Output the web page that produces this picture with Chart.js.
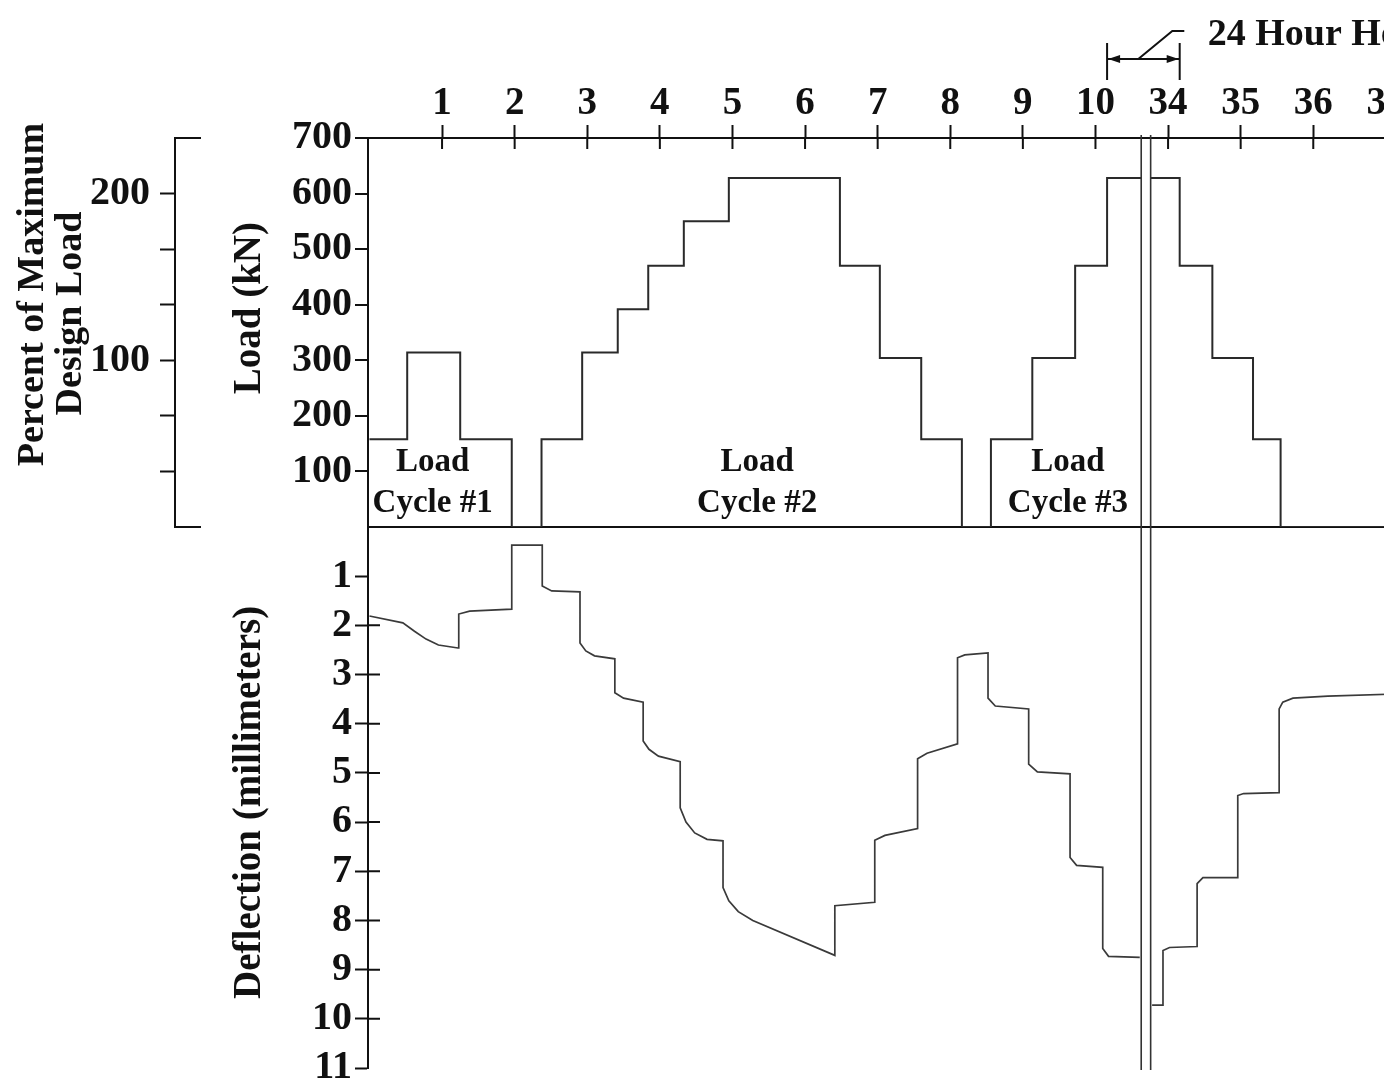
<!DOCTYPE html>
<html>
<head>
<meta charset="utf-8">
<script src="https://cdn.jsdelivr.net/npm/chart.js@4.4.1/dist/chart.umd.min.js"></script>
<style>
  html, body { margin: 0; padding: 0; background: #fff; overflow: hidden; }
  canvas { display: block; }
</style>
</head>
<body>
<canvas id="grafico" width="1420" height="1086"></canvas>
<script>
// hours on the top axis (the 24 hour hold is cut out of the axis)
var horaTicks = [1, 2, 3, 4, 5, 6, 7, 8, 9, 10, 34, 35, 36, 37];
var pausa = 23;              // hours removed from the axis
var corte = [10.63, 33.76];  // axis break, real hours
var manter = [10.16, 34.16]; // 24 hour hold

var cargaTicks = [0, 100, 200, 300, 400, 500, 600, 700];
var deflTicks = [0, 1, 2, 3, 4, 5, 6, 7, 8, 9, 10, 11];
var pctTicks = [0, 100 / 3, 200 / 3, 100, 400 / 3, 500 / 3, 200, 700 / 3];
var pctRotulos = ['', '', '', '100', '', '', '200', ''];

// load steps: time the level starts (h), load (kN)
var cargaHoras = [0, 0.52, 1.25, 1.96, 2.37, 2.93, 3.42, 3.84, 4.33, 4.95, 6.48, 7.03, 7.60, 8.16,
  8.56, 9.13, 9.72, 10.16, 10.63, 10.63, 33.76, 34.16, 34.61, 35.17, 35.55, 37.47];
var cargaKN = [158, 314, 158, 0, 158, 314, 392, 470, 550, 628, 470, 304, 158, 0,
  158, 304, 470, 628, 628, null, 628, 470, 304, 158, 0, 0];

// deflection: time (h), deflection (mm)
var deflHoras = [0, 0.46, 0.62, 0.78, 0.95, 1.22, 1.23, 1.38, 1.96, 1.96, 2.38, 2.38, 2.51, 2.90,
  2.90, 2.98, 3.10, 3.38, 3.38, 3.50, 3.77, 3.77, 3.85, 3.98, 4.28, 4.28, 4.36, 4.48, 4.65, 4.87,
  4.87, 4.95, 5.08, 5.28, 6.41, 6.41, 6.96, 6.96, 7.10, 7.55, 7.55, 7.68, 8.10, 8.10, 8.20, 8.52,
  8.52, 8.62, 9.08, 9.08, 9.20, 9.65, 9.65, 9.74, 10.10, 10.10, 10.18, 10.61, 10.63,
  33.78, 33.93, 33.93, 34.02, 34.40, 34.40, 34.48, 34.96, 34.96, 35.04, 35.53, 35.53, 35.58,
  35.72, 36.20, 37.47];
var deflMM = [1.81, 1.95, 2.12, 2.28, 2.40, 2.46, 1.77, 1.71, 1.67, 0.37, 0.37, 1.20, 1.30, 1.32,
  2.36, 2.52, 2.62, 2.68, 3.37, 3.48, 3.56, 4.35, 4.52, 4.66, 4.77, 5.71, 6.00, 6.22, 6.35, 6.38,
  7.33, 7.60, 7.82, 8.00, 8.71, 7.70, 7.63, 6.37, 6.27, 6.13, 4.71, 4.60, 4.41, 2.66, 2.60, 2.56,
  3.48, 3.64, 3.70, 4.82, 4.98, 5.02, 6.72, 6.88, 6.92, 8.57, 8.73, 8.75, null,
  9.72, 9.72, 8.61, 8.55, 8.53, 7.25, 7.13, 7.13, 5.46, 5.42, 5.40, 3.70, 3.56,
  3.48, 3.44, 3.38];

var ciclos = [['Load', 'Cycle #1'], ['Load', 'Cycle #2'], ['Load', 'Cycle #3']];

var tinta = '#111';
var fonte = "'Liberation Serif', 'Times New Roman', serif";

var eixoX = function (t) {
	return t >= corte[1] ? t - pausa : t;
};
var pontos = function (horas, valores) {
	return horas.map(function (t, i) { return { x: eixoX(t), y: valores[i] }; });
};
var marcas = function (lista) {
	return function (s) { s.ticks = lista.map(function (v) { return { value: v }; }); };
};

var extras = {
	id: 'extras',
	afterDraw: function (chart) {
		var ctx = chart.ctx, a = chart.chartArea, sx = chart.scales.x;
		var sc = chart.scales.yCarga, sd = chart.scales.yDefl, sp = chart.scales.yPct;
		ctx.save();
		ctx.strokeStyle = tinta;
		ctx.fillStyle = tinta;
		ctx.lineWidth = 2;
		ctx.beginPath();
		// ticks cross the axes
		sx.ticks.forEach(function (t) {
			var px = sx.getPixelForValue(t.value);
			ctx.moveTo(px, a.top); ctx.lineTo(px, a.top + 11);
		});
		sd.ticks.forEach(function (t) {
			if (t.value > 1 && t.value < 11) {
				var py = sd.getPixelForValue(t.value);
				ctx.moveTo(a.left, py); ctx.lineTo(a.left + 12, py);
			}
		});
		// bracket ends of the percent axis
		[sp.min, sp.max].forEach(function (v) {
			var py = sp.getPixelForValue(v);
			ctx.moveTo(sp.right - 1, py); ctx.lineTo(sp.right + 26, py);
		});
		ctx.stroke();

		// axis break
		ctx.lineWidth = 1.6;
		ctx.strokeStyle = '#333';
		corte.forEach(function (t) {
			var px = sx.getPixelForValue(eixoX(t));
			ctx.beginPath(); ctx.moveTo(px, a.top - 3); ctx.lineTo(px, a.bottom + 2); ctx.stroke();
		});

		// cycle labels
		ctx.font = 'bold 33px ' + fonte;
		ctx.textAlign = 'center';
		ctx.textBaseline = 'middle';
		[0.87, 5.34, 9.62].forEach(function (h, i) {
			var px = sx.getPixelForValue(h);
			ctx.fillText(ciclos[i][0], px, sc.getPixelForValue(117));
			ctx.fillText(ciclos[i][1], px, sc.getPixelForValue(43));
		});

		// 24 hour hold
		var x1 = sx.getPixelForValue(eixoX(manter[0]));
		var x2 = sx.getPixelForValue(eixoX(manter[1]));
		var ym = 59;
		ctx.strokeStyle = tinta;
		ctx.lineWidth = 2;
		ctx.beginPath();
		ctx.moveTo(x1, 43); ctx.lineTo(x1, 80);
		ctx.moveTo(x2, 43); ctx.lineTo(x2, 80);
		ctx.moveTo(x1, ym); ctx.lineTo(x2, ym);
		var xl = x1 + (x2 - x1) * 0.43;
		ctx.moveTo(xl, ym); ctx.lineTo(xl + 34, 31); ctx.lineTo(xl + 46, 31);
		ctx.stroke();
		ctx.beginPath();
		ctx.moveTo(x1 + 1, ym); ctx.lineTo(x1 + 13, ym - 4); ctx.lineTo(x1 + 13, ym + 4); ctx.closePath();
		ctx.moveTo(x2 - 1, ym); ctx.lineTo(x2 - 13, ym - 4); ctx.lineTo(x2 - 13, ym + 4); ctx.closePath();
		ctx.fill();
		ctx.font = 'bold 38px ' + fonte;
		ctx.textAlign = 'left';
		ctx.textBaseline = 'alphabetic';
		ctx.fillText('24 Hour Hold', x2 + 28, 45);
		ctx.restore();
	}
};

var semPad = function (s) {
	s.paddingTop = 0; s.paddingBottom = 0; s.paddingLeft = 0; s.paddingRight = 0;
};

var ctx = document.getElementById('grafico').getContext('2d');
var grafico = new Chart(ctx, {
	type: 'line',
	data: {
		datasets: [{
			label: 'Load',
			data: pontos(cargaHoras, cargaKN),
			yAxisID: 'yCarga',
			stepped: true,
			borderColor: '#2a2a2a',
			borderWidth: 2,
			pointRadius: 0,
			fill: false
		}, {
			label: 'Deflection',
			data: pontos(deflHoras, deflMM),
			yAxisID: 'yDefl',
			borderColor: '#3a3a3a',
			borderWidth: 1.7,
			pointRadius: 0,
			tension: 0,
			fill: false
		}]
	},
	options: {
		responsive: false,
		animation: false,
		devicePixelRatio: 1,
		layout: { padding: { top: 0, left: 0, right: 0, bottom: 18 } },
		plugins: { legend: { display: false }, tooltip: { enabled: false } },
		scales: {
			x: {
				type: 'linear', position: 'top', min: -0.02, max: 14.47,
				afterBuildTicks: function (s) {
					s.ticks = horaTicks.map(function (h) { return { value: eixoX(h) }; });
				},
				afterFit: function (s) { s.height = 138; semPad(s); },
				ticks: {
					callback: function (v, i) { return horaTicks[i]; },
					autoSkip: false, maxRotation: 0, padding: 2, color: tinta,
					font: { family: fonte, size: 39, weight: 'bold', lineHeight: 1 }
				},
				grid: { drawOnChartArea: false, tickLength: 13, tickColor: tinta, tickWidth: 2 },
				border: { color: tinta, width: 2 }
			},
			yPct: {
				type: 'linear', position: 'left', stack: 'pct', stackWeight: 389, weight: 3,
				min: 0, max: 700 / 3,
				afterBuildTicks: marcas(pctTicks),
				afterFit: function (s) { s.width = 175; semPad(s); },
				ticks: {
					callback: function (v, i) { return pctRotulos[i]; },
					autoSkip: false, padding: 10, color: tinta,
					font: { family: fonte, size: 40, weight: 'bold', lineHeight: 1 }
				},
				grid: {
					drawOnChartArea: false, tickLength: 15, tickWidth: 2,
					tickColor: function (c) { return (c.index === 0 || c.index === pctTicks.length - 1) ? 'transparent' : tinta; }
				},
				border: { color: tinta, width: 2 },
				title: {
					display: true,
					text: ['        Percent of Maximum', '    Design Load'],
					color: tinta, padding: { top: 14, bottom: 0 },
					font: { family: fonte, size: 38, weight: 'bold', lineHeight: 1 }
				}
			},
			yPctFundo: {
				type: 'linear', position: 'left', stack: 'pct', stackWeight: 541, weight: 2,
				afterFit: function (s) { s.width = 175; semPad(s); },
				ticks: { display: false },
				grid: { display: false, drawTicks: false },
				border: { display: false }
			},
			yCarga: {
				type: 'linear', position: 'left', stack: 'esq', stackWeight: 389, weight: 1,
				min: 0, max: 700,
				afterBuildTicks: marcas(cargaTicks),
				afterFit: function (s) { s.width = 193; semPad(s); },
				ticks: {
					callback: function (v) { return v === 0 ? '' : v; },
					autoSkip: false, padding: 3, color: tinta,
					font: { family: fonte, size: 40, weight: 'bold', lineHeight: 1 }
				},
				grid: {
					drawOnChartArea: true, tickLength: 13, tickWidth: 2, lineWidth: 2,
					color: function (c) { return c.tick && c.tick.value === 0 ? tinta : 'transparent'; },
					tickColor: function (c) { return c.tick && c.tick.value === 0 ? 'transparent' : tinta; }
				},
				border: { color: tinta, width: 2 },
				title: {
					display: true, text: '     Load (kN)', color: tinta,
					padding: { top: 55, bottom: 0 },
					font: { family: fonte, size: 39, weight: 'bold', lineHeight: 1 }
				}
			},
			yDefl: {
				type: 'linear', position: 'left', stack: 'esq', stackWeight: 541, weight: 0,
				min: 0, max: 11, reverse: true,
				afterBuildTicks: marcas(deflTicks),
				afterFit: function (s) { s.width = 193; semPad(s); },
				ticks: {
					callback: function (v) { return v === 0 ? '' : v; },
					autoSkip: false, padding: 3, color: tinta,
					font: { family: fonte, size: 40, weight: 'bold', lineHeight: 1 }
				},
				grid: {
					drawOnChartArea: false, tickLength: 13, tickWidth: 2,
					tickColor: function (c) { return c.tick && c.tick.value === 0 ? 'transparent' : tinta; }
				},
				border: { color: tinta, width: 2 },
				title: {
					display: true, text: 'Deflection (millimeters) ', color: tinta,
					padding: { top: 55, bottom: 0 },
					font: { family: fonte, size: 39, weight: 'bold', lineHeight: 1 }
				}
			}
		}
	},
	plugins: [extras]
});
</script>
</body>
</html>
